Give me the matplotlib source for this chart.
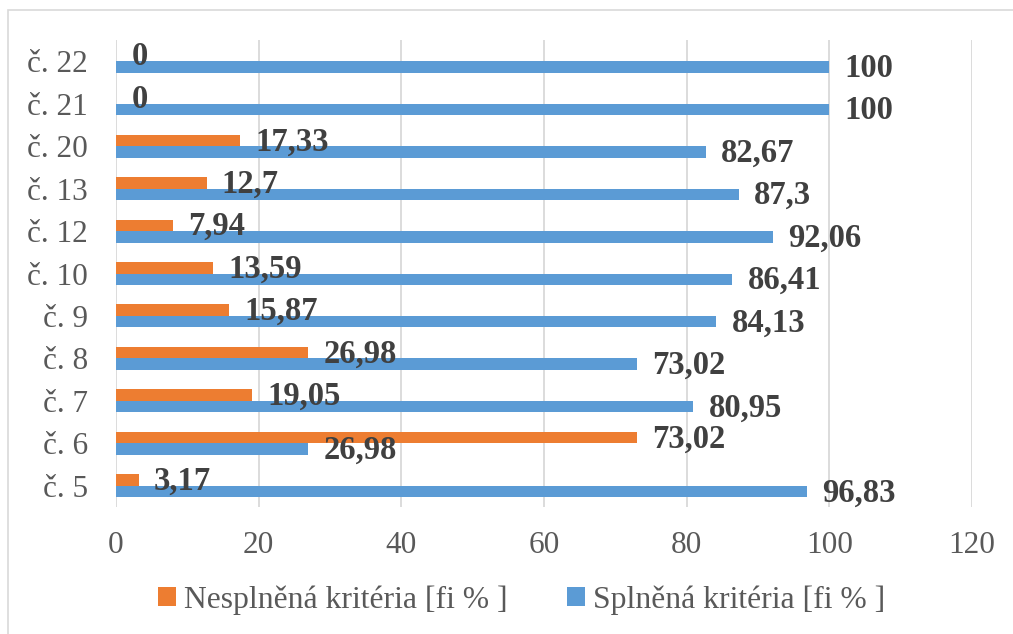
import matplotlib.pyplot as plt
import numpy as np
from matplotlib.patches import Rectangle

plt.rcParams['font.family'] = ['Liberation Serif', 'DejaVu Serif']

# kategorie zdola nahoru
kategorie = ['č. 5', 'č. 6', 'č. 7', 'č. 8', 'č. 9', 'č. 10', 'č. 12', 'č. 13', 'č. 20', 'č. 21', 'č. 22']
nesplnena = [3.17, 73.02, 19.05, 26.98, 15.87, 13.59, 7.94, 12.7, 17.33, 0, 0]
splnena = [96.83, 26.98, 80.95, 73.02, 84.13, 86.41, 92.06, 87.3, 82.67, 100, 100]
nazvy = ['Nesplněná kritéria [fi % ]', 'Splněná kritéria [fi % ]']

oranzova = '#ED7D31'
modra = '#5B9BD5'

fig = plt.figure(figsize=(10.13, 6.34), dpi=100)
ax = fig.add_axes([0.1145, 0.2003, 0.845, 0.7366])

y = np.arange(len(kategorie))
h = 0.27
b1 = ax.barh(y + h / 2, nesplnena, h, color=oranzova, linewidth=0, label=nazvy[0], zorder=3)
b2 = ax.barh(y - h / 2, splnena, h, color=modra, linewidth=0, label=nazvy[1], zorder=3)

# popisky hodnot za koncem pruhu
def fmt(v):
    return ('%g' % v).replace('.', ',')

for bars, vals in ((b1, nesplnena), (b2, splnena)):
    for r, v in zip(bars, vals):
        ax.annotate(fmt(v), (v, r.get_y() + r.get_height() / 2), xytext=(11, -1),
                    textcoords='offset points', va='center', ha='left',
                    fontsize=23.5, fontweight='bold', color='#404040', zorder=4)

ax.set_xlim(0, 120)
ax.set_ylim(-0.5, len(kategorie) - 0.5)
ax.set_xticks(np.arange(0, 121, 20))
ax.set_yticks(y)
ax.set_yticklabels(kategorie)
ax.tick_params(axis='both', length=0, labelsize=22.5, labelcolor='#595959')
ax.tick_params(axis='y', pad=20)
ax.tick_params(axis='x', pad=17)
ax.xaxis.grid(True, color='#D9D9D9', linewidth=1.3, zorder=0)
for s in ax.spines.values():
    s.set_visible(False)

leg = fig.legend(handles=[b1, b2], labels=nazvy, loc='center', bbox_to_anchor=(0.515, 1 - 600 / 634),
                 ncol=2, frameon=False, fontsize=22.8, handlelength=0.55, handleheight=0.55,
                 handletextpad=0.25, columnspacing=1.9)
for t in leg.get_texts():
    t.set_color('#595959')

# rámeček grafu
fig.patches.append(Rectangle((8 / 1013, -0.1), 1.2, 1.1 - 10 / 634, transform=fig.transFigure,
                             fill=False, edgecolor='#D9D9D9', linewidth=1.2))

fig.savefig('out.png', dpi=100)
